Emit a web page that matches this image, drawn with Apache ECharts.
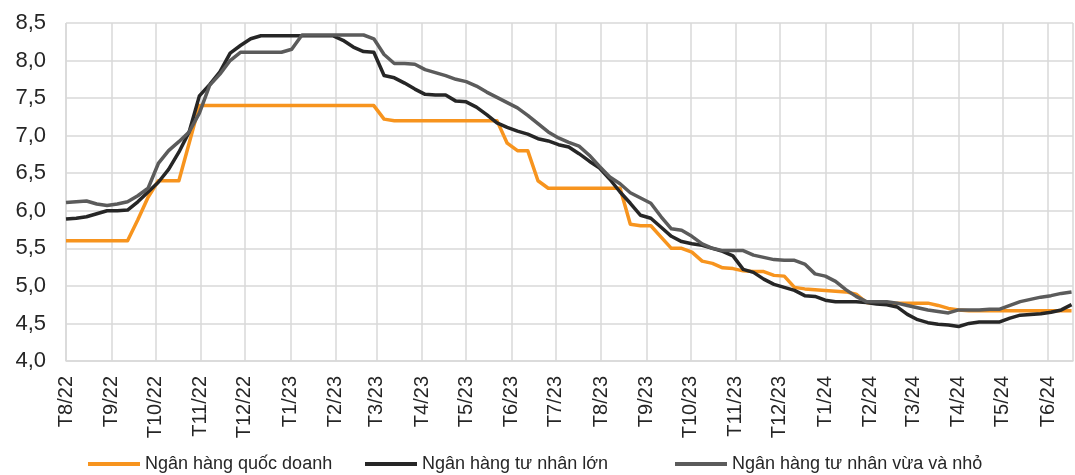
<!DOCTYPE html>
<html>
<head>
<meta charset="utf-8">
<script src="https://cdn.jsdelivr.net/npm/echarts@6/dist/echarts.min.js"></script>
<style>
html,body{margin:0;padding:0;background:#fff;}
#c{width:1075px;height:475px;}
</style>
</head>
<body>
<div id="c"></div>
<script>
// Weekly observation dates
const dates = [
'2022-08-01','2022-08-08','2022-08-15','2022-08-22','2022-08-29',
'2022-09-05','2022-09-12','2022-09-19','2022-09-26',
'2022-10-03','2022-10-10','2022-10-17','2022-10-24','2022-10-31',
'2022-11-07','2022-11-14','2022-11-21','2022-11-28',
'2022-12-05','2022-12-12','2022-12-19','2022-12-26',
'2023-01-02','2023-01-09','2023-01-16','2023-01-23','2023-01-30',
'2023-02-06','2023-02-13','2023-02-20','2023-02-27',
'2023-03-06','2023-03-13','2023-03-20','2023-03-27',
'2023-04-03','2023-04-10','2023-04-17','2023-04-24',
'2023-05-01','2023-05-08','2023-05-15','2023-05-22','2023-05-29',
'2023-06-05','2023-06-12','2023-06-19','2023-06-26',
'2023-07-03','2023-07-10','2023-07-17','2023-07-24','2023-07-31',
'2023-08-07','2023-08-14','2023-08-21','2023-08-28',
'2023-09-04','2023-09-11','2023-09-18','2023-09-25',
'2023-10-02','2023-10-09','2023-10-16','2023-10-23','2023-10-30',
'2023-11-06','2023-11-13','2023-11-20','2023-11-27',
'2023-12-04','2023-12-11','2023-12-18','2023-12-25',
'2024-01-01','2024-01-08','2024-01-15','2024-01-22','2024-01-29',
'2024-02-05','2024-02-12','2024-02-19','2024-02-26',
'2024-03-04','2024-03-11','2024-03-18','2024-03-25',
'2024-04-01','2024-04-08','2024-04-15','2024-04-22','2024-04-29',
'2024-05-06','2024-05-13','2024-05-20','2024-05-27',
'2024-06-03','2024-06-10','2024-06-17'
];

const seriesNames = ['Ngân hàng quốc doanh', 'Ngân hàng tư nhân lớn', 'Ngân hàng tư nhân vừa và nhỏ'];

const stateBanks = [
5.6,5.6,5.6,5.6,5.6,5.6,5.6,
5.88,6.18,6.4,6.4,6.4,6.9,7.4,
7.4,7.4,7.4,7.4,7.4,7.4,7.4,7.4,7.4,7.4,7.4,7.4,7.4,7.4,7.4,7.4,7.4,
7.22,
7.2,7.2,7.2,7.2,7.2,7.2,7.2,7.2,7.2,7.2,7.2,
6.9,6.8,6.8,6.4,
6.3,6.3,6.3,6.3,6.3,6.3,6.3,6.3,
5.82,5.8,5.8,5.65,5.5,5.5,5.45,5.33,5.3,5.24,
5.23,5.2,5.19,5.19,5.14,5.13,4.98,4.96,4.95,4.94,
4.93,4.92,4.89,4.78,4.77,4.77,4.77,4.77,4.77,4.77,
4.74,4.7,4.68,
4.67,4.67,4.67,4.67,4.67,4.67,4.67,4.67,4.67,4.67,4.67
];

const largePrivate = [
5.89,5.9,5.92,5.96,6.0,6.0,6.01,6.12,6.25,6.38,
6.55,6.78,7.05,7.53,7.68,7.85,8.1,8.2,8.29,8.33,
8.33,8.33,8.33,8.33,8.33,8.33,8.33,8.27,8.18,8.12,
8.11,7.8,7.77,7.7,7.62,7.55,7.54,7.54,7.46,7.45,
7.38,7.28,7.17,7.11,7.06,7.02,6.96,6.93,6.88,6.85,
6.76,6.66,6.57,6.42,6.25,6.1,5.94,5.9,5.78,5.66,
5.59,5.56,5.54,5.5,5.46,5.4,5.22,5.18,5.09,5.02,
4.98,4.94,4.87,4.86,4.81,4.79,4.79,4.79,4.78,4.76,
4.75,4.72,4.62,4.55,4.51,4.49,4.48,4.46,4.5,4.52,
4.52,4.52,4.57,4.61,4.62,4.63,4.65,4.68,4.75
];

const smallPrivate = [
6.11,6.12,6.13,6.09,6.07,6.09,6.12,6.2,6.3,6.63,
6.8,6.92,7.05,7.3,7.67,7.82,8.0,8.11,8.11,8.11,
8.11,8.11,8.15,8.34,8.34,8.34,8.34,8.34,8.34,8.34,
8.29,8.08,7.96,7.96,7.95,7.88,7.84,7.8,7.75,7.72,
7.66,7.58,7.51,7.44,7.37,7.27,7.16,7.05,6.97,6.91,
6.86,6.74,6.59,6.45,6.36,6.24,6.17,6.1,5.92,5.76,
5.74,5.66,5.56,5.5,5.47,5.47,5.47,5.41,5.38,5.35,
5.34,5.34,5.29,5.16,5.13,5.06,4.95,4.86,4.79,4.79,
4.79,4.77,4.74,4.71,4.68,4.66,4.64,4.68,4.68,4.68,
4.69,4.69,4.74,4.79,4.82,4.85,4.87,4.9,4.92
];

const yTicks = { min: 4, max: 8.5, interval: 0.5 };
const xRange = { min: '2022-08-01', max: '2024-06-18' };
const colors = ['#F7941E', '#262626', '#5B5B5B'];
const legendLefts = [88, 365, 675];

function pairs(vals){ return vals.map((v,i)=>[dates[i], v]); }

const chart = echarts.init(document.getElementById('c'), null, {renderer:'canvas'});
const DAY = 86400000;
chart.setOption({
  animation: false,
  backgroundColor: '#ffffff',
  textStyle: { fontFamily: '"Liberation Sans", Arial, sans-serif' },
  grid: { left: 66, right: 2, top: 23, bottom: 114, containLabel: false },
  legend: seriesNames.map((name, i) => ({
    left: legendLefts[i], top: 455, padding: 0,
    icon: 'rect', itemWidth: 52, itemHeight: 4,
    textStyle: { fontSize: 18, color: '#262626' },
    data: [name]
  })),
  xAxis: {
    type: 'time',
    min: xRange.min, max: xRange.max,
    minInterval: 28*DAY, maxInterval: 31*DAY,
    splitNumber: 23,
    axisLine: { show: true, lineStyle: { color: '#d9d9d9', width: 1.5 } },
    axisTick: { show: false },
    splitLine: { show: true, lineStyle: { color: '#d9d9d9', width: 1.5 } },
    axisLabel: {
      rotate: 90, fontSize: 20, color: '#262626', margin: 15, interval: 0,
      hideOverlap: false, showMinLabel: true, showMaxLabel: false,
      fontWeight: 'normal',
      formatter: function (val) {
        const d = new Date(val);
        return 'T' + (d.getMonth() + 1) + '/' + String(d.getFullYear()).slice(2);
      }
    }
  },
  yAxis: {
    type: 'value', min: yTicks.min, max: yTicks.max, interval: yTicks.interval,
    axisLine: { show: false }, axisTick: { show: false },
    splitLine: { show: true, lineStyle: { color: '#d9d9d9', width: 1.5 } },
    axisLabel: {
      fontSize: 22, color: '#262626', margin: 20,
      formatter: v => v.toFixed(1).replace('.', ',')
    }
  },
  series: [stateBanks, largePrivate, smallPrivate].map((vals, i) => ({
    name: seriesNames[i], type: 'line', data: pairs(vals),
    showSymbol: false, symbol: 'none',
    lineStyle: { color: colors[i], width: 3.5, join: 'round' },
    itemStyle: { color: colors[i] },
    z: 2 + i
  }))
});
</script>
</body>
</html>
